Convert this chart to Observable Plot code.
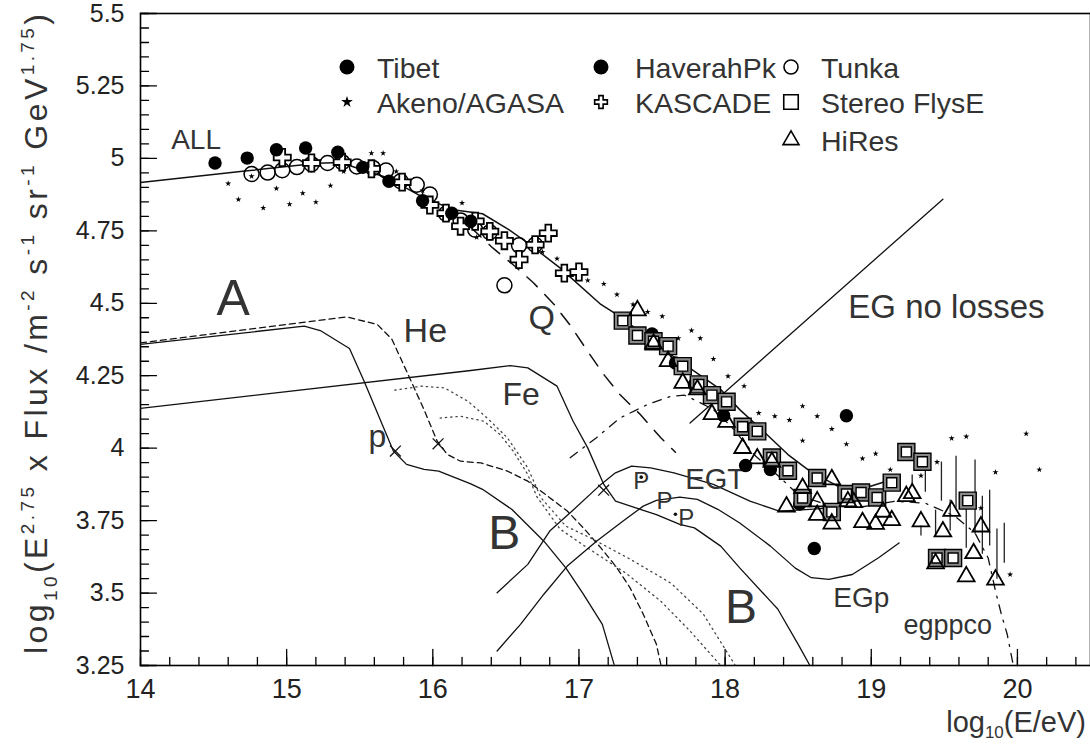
<!DOCTYPE html>
<html><head><meta charset="utf-8">
<script src="https://cdn.jsdelivr.net/npm/d3@7"></script>
<script src="https://cdn.jsdelivr.net/npm/@observablehq/plot@0.6"></script>
<style>body{margin:0;background:#fff} svg{display:block}</style>
</head><body><div id="chart"></div>
<script>
// ---------------- data (log10 E/eV , log10 E^2.75 flux) ----------------
const xTicks = [14, 15, 16, 17, 18, 19, 20];
const yTicks = [3.25, 3.5, 3.75, 4, 4.25, 4.5, 4.75, 5, 5.25, 5.5];

const tibet = [[14.51,4.984],[14.73,5.001],[14.93,5.03],[15.13,5.036],[15.35,5.021],[15.52,4.969],[15.70,4.921],[15.93,4.854],[16.13,4.811],[16.26,4.783]];
const haverah = [[17.50,4.394],[17.66,4.294],[17.79,4.220],[17.99,4.113],[18.14,3.940],[18.31,3.926],[18.51,3.807],[18.61,3.654],[18.83,4.112]];
const tunka = [[14.76,4.946],[14.87,4.951],[14.97,4.959],[15.07,4.970],[15.17,4.980],[15.28,4.984],[15.38,4.987],[15.48,4.972],[15.59,4.967],[15.68,4.958],[15.78,4.921],[15.89,4.909],[15.98,4.875],[16.09,4.809],[16.19,4.786],[16.29,4.754],[16.39,4.745],[16.59,4.700],[16.70,4.702],[16.49,4.562]];
const kascade = [[14.97,5.003],[15.17,4.984],[15.38,4.987],[15.58,4.964],[15.79,4.918],[15.98,4.839],[16.09,4.811],[16.19,4.766],[16.29,4.783],[16.39,4.748],[16.49,4.716],[16.59,4.651],[16.70,4.702],[16.79,4.742],[16.90,4.604],[17.00,4.608]];
const akeno = [[14.60,4.913],[14.67,4.858],[14.76,4.938],[14.84,4.829],[14.93,4.896],[15.02,4.842],[15.11,4.880],[15.20,4.849],[15.30,4.906],[15.39,4.955],[15.58,5.018],[15.66,5.018],[15.75,4.955],[15.93,4.889],[16.20,4.846],[16.30,4.728],[16.75,4.677],[16.85,4.654],[17.06,4.579],[17.17,4.567],[17.26,4.530],[17.37,4.496],[17.47,4.470],[17.57,4.455],[17.68,4.379],[17.77,4.406],[17.83,4.379],[17.92,4.308],[18.02,4.248],[18.13,4.214],[18.23,4.121],[18.34,4.110],[18.44,4.097],[18.53,4.145],[18.63,4.110],[18.73,4.066],[18.53,4.026],[18.83,4.014],[18.94,3.964],[19.03,3.981],[19.13,3.926],[19.34,3.905],[19.45,3.952],[19.55,4.034],[19.65,4.040],[19.85,3.917],[19.75,3.793],[20.06,4.050],[20.15,3.926],[19.95,3.564]];
const flysE = [[17.30,4.440],[17.40,4.389],[17.51,4.369],[17.61,4.352],[17.71,4.283],[17.82,4.220],[17.91,4.183],[18.01,4.160],[18.12,4.074],[18.22,4.058],[18.32,3.968],[18.43,3.922],[18.53,3.828],[18.63,3.897],[18.73,3.780],[18.83,3.842],[18.93,3.847],[19.04,3.830],[19.14,3.881],[19.24,3.987],[19.35,3.953],[19.66,3.819],[19.45,3.621],[19.56,3.621]];
const hires = [[17.40,4.475],[17.51,4.360],[17.61,4.300],[17.71,4.225],[17.81,4.202],[17.91,4.117],[18.01,4.090],[18.12,4.000],[18.22,3.964],[18.32,3.952],[18.42,3.798],[18.53,3.862],[18.63,3.816],[18.63,3.769],[18.73,3.892],[18.73,3.739],[18.84,3.816],[18.88,3.813],[18.94,3.744],[19.03,3.738],[19.08,3.780],[19.14,3.751],[19.24,3.834],[19.28,3.844],[19.34,3.747],[19.49,3.712],[19.55,3.783],[19.44,3.602],[19.70,3.637],[19.75,3.729],[19.65,3.557],[19.85,3.546]];
const hiresErr = [[19.28,3.869,3.907],[19.37,3.848,3.938],[19.48,3.817,3.952],[19.44,3.700,3.786],[19.34,3.697,3.731],[19.58,3.793,3.972],[19.54,3.714,3.821],[19.65,3.655,3.810],[19.71,3.703,3.959],[19.76,3.634,3.834],[19.81,3.662,3.855],[19.86,3.548,3.721],[19.91,3.603,3.741]];

// model curves
const allCurve = [[14.0,4.917],[14.73,4.957],[15.21,4.983],[15.37,4.986],[15.48,4.967],[15.69,4.933],[15.94,4.864],[16.14,4.823],[16.34,4.809],[16.52,4.754],[16.65,4.708],[16.87,4.622],[17.15,4.496],[17.26,4.461],[17.69,4.300],[17.97,4.202],[18.10,4.133],[18.26,4.059],[18.43,3.978],[18.58,3.921],[18.77,3.869],[18.93,3.858],[19.18,3.898]];
const pCurve = [[14.0,4.358],[15.12,4.421],[15.23,4.406],[15.43,4.344],[15.53,4.231],[15.73,3.990],[15.82,3.944],[15.94,3.927],[16.04,3.921],[16.26,3.877],[16.34,3.858],[16.54,3.789],[16.76,3.679],[16.91,3.587],[17.03,3.496],[17.16,3.392],[17.24,3.254]];
const heCurve = [[14.0,4.363],[15.41,4.453],[15.62,4.427],[15.72,4.376],[15.82,4.266],[15.94,4.133],[16.03,4.024],[16.10,3.978],[16.19,3.955],[16.33,3.949],[16.51,3.921],[16.65,3.886],[16.80,3.829],[16.92,3.783],[17.03,3.725],[17.15,3.656],[17.26,3.587],[17.35,3.518],[17.44,3.427],[17.53,3.323],[17.56,3.254]];
const feCurve = [[14.0,4.137],[16.26,4.268],[16.53,4.285],[16.65,4.277],[16.85,4.214],[16.96,4.093],[17.06,4.001],[17.17,3.875],[17.25,3.817],[17.42,3.789],[17.53,3.771],[17.69,3.737],[17.79,3.725],[17.97,3.662],[18.10,3.587],[18.31,3.472],[18.36,3.445],[18.50,3.323],[18.58,3.25]];
const dotCurveA = [[15.74,4.200],[15.92,4.214],[16.08,4.208],[16.24,4.162],[16.37,4.105],[16.51,4.036],[16.65,3.932],[16.74,3.829],[16.91,3.731],[17.08,3.690],[17.35,3.617],[17.63,3.534],[17.85,3.428],[18.07,3.25]];
const dotCurveB = [[16.05,4.104],[16.19,4.110],[16.35,4.093],[16.46,4.047],[16.55,3.990],[16.65,3.909],[16.71,3.834],[16.87,3.721],[17.04,3.662],[17.32,3.569],[17.56,3.472],[17.76,3.369],[17.97,3.25]];
const qCurve = [[16.26,4.762],[16.41,4.691],[16.55,4.633],[16.69,4.570],[16.83,4.496],[16.94,4.424],[17.06,4.334],[17.17,4.254],[17.28,4.185],[17.42,4.116],[17.56,4.036],[17.66,3.986]];
const egNoLoss = [[17.76,4.087],[19.49,4.859]];
const egtCurve = [[16.44,3.501],[16.65,3.599],[16.80,3.714],[16.94,3.777],[17.15,3.875],[17.25,3.915],[17.36,3.938],[17.49,3.932],[17.65,3.915],[17.92,3.875],[18.17,3.817],[18.37,3.783],[18.58,3.789],[18.72,3.794]];
const egpCurve = [[16.44,3.300],[16.60,3.392],[16.76,3.496],[16.92,3.593],[17.12,3.679],[17.30,3.748],[17.44,3.800],[17.53,3.820],[17.69,3.831],[17.81,3.823],[17.95,3.789],[18.10,3.742],[18.31,3.662],[18.48,3.586],[18.59,3.553],[18.71,3.547],[18.87,3.564],[19.05,3.622],[19.19,3.673]];
const egppcoCurve = [[16.94,3.967],[17.12,4.036],[17.28,4.104],[17.47,4.151],[17.63,4.179],[17.72,4.183],[17.81,4.162],[17.92,4.133],[18.04,4.076],[18.21,3.972],[18.38,3.897],[18.51,3.834],[18.72,3.803],[18.93,3.797],[19.16,3.817],[19.37,3.810],[19.57,3.766],[19.71,3.707],[19.80,3.621],[19.85,3.507],[19.89,3.427],[19.93,3.358],[19.97,3.255]];
const crossMarks = [[15.744,3.990],[16.036,4.015],[17.169,3.855]];
const pDots = [[17.426,3.900],[17.66,3.772]];

const labels = [
  {text:"ALL", x:14.21, y:5.031}, {text:"A", x:14.52, y:4.459}, {text:"He", x:15.80, y:4.366},
  {text:"Fe", x:16.476, y:4.150}, {text:"p", x:15.56, y:4.003}, {text:"Q", x:16.654, y:4.410},
  {text:"EG no losses", x:18.843, y:4.448}, {text:"EGT", x:17.728, y:3.859},
  {text:"P", x:17.372, y:3.859}, {text:"P", x:17.53, y:3.790}, {text:"P", x:17.68, y:3.731},
  {text:"B", x:16.38, y:3.652}, {text:"B", x:18.0, y:3.397}, {text:"EGp", x:18.74, y:3.452},
  {text:"egppco", x:19.22, y:3.359}
];
const legendEntries = [
  {label:"Tibet", kind:"dotFill", col:0, row:0}, {label:"HaverahPk", kind:"dotFill", col:1, row:0},
  {label:"Tunka", kind:"dotOpen", col:2, row:0}, {label:"Akeno/AGASA", kind:"star", col:0, row:1},
  {label:"KASCADE", kind:"cross", col:1, row:1}, {label:"Stereo FlysE", kind:"square", col:2, row:1},
  {label:"HiRes", kind:"triangle", col:2, row:2}
];

// ---------------- chart ----------------
const FONT = "'Liberation Sans', Arial, Helvetica, sans-serif";
const xy = {x: d => d[0], y: d => d[1]};
const tickShape = {draw(ctx, l) { ctx.moveTo(0, 0); ctx.lineTo(0, -l); }};
const xMinor = d3.range(0, 33).map(i => 14 + i * 0.2);
const yMinor = d3.range(0, 46).map(i => 3.25 + i * 0.05);
const sizeOf = t => ({"ALL":28,"A":50,"He":34,"Fe":32,"p":32,"Q":34,"EG no losses":33,"EGT":29,"P":24,"B":48,"EGp":28,"egppco":27})[t];
const lineOpt = (o) => Object.assign({...xy, stroke: "#111", strokeWidth: 1.3, clip: true}, o);

const plot = Plot.plot({
  width: 1090, height: 744,
  marginLeft: 140, marginRight: 0, marginTop: 13, marginBottom: 79,
  x: {domain: [14, 20.5]},
  y: {domain: [3.25, 5.5]},
  style: {fontFamily: FONT, fontSize: "27px", color: "#222", background: "white", overflow: "visible"},
  marks: [
    Plot.frame({stroke: "#000", strokeWidth: 1.6}),
    Plot.vector(xMinor, {x: d => d, y: () => 3.25, length: 8, rotate: 0, anchor: "start", shape: tickShape, stroke: "#000", strokeWidth: 1.3}),
    Plot.vector(xTicks, {x: d => d, y: () => 3.25, length: 16, rotate: 0, anchor: "start", shape: tickShape, stroke: "#000", strokeWidth: 1.3}),
    Plot.vector(yMinor, {x: () => 14, y: d => d, length: 8, rotate: 90, anchor: "start", shape: tickShape, stroke: "#000", strokeWidth: 1.3}),
    Plot.vector(yTicks, {x: () => 14, y: d => d, length: 16, rotate: 90, anchor: "start", shape: tickShape, stroke: "#000", strokeWidth: 1.3}),
    Plot.axisX({ticks: xTicks, tickSize: 0, tickPadding: 13, tickFormat: d => String(d), label: null}),
    Plot.axisY({ticks: yTicks, tickSize: 0, tickPadding: 16, tickFormat: d => String(d), label: null, fontSize: 25}),

    Plot.line(pCurve, lineOpt({})),
    Plot.line(heCurve, lineOpt({strokeDasharray: "6,4"})),
    Plot.line(feCurve, lineOpt({})),
    Plot.line(dotCurveA, lineOpt({strokeDasharray: "1.3,4", stroke: "#444"})),
    Plot.line(dotCurveB, lineOpt({strokeDasharray: "1.3,4", stroke: "#444"})),
    Plot.line(qCurve, lineOpt({strokeDasharray: "14,11", strokeWidth: 1.5})),
    Plot.line(egNoLoss, lineOpt({})),
    Plot.line(egtCurve, lineOpt({})),
    Plot.line(egpCurve, lineOpt({})),
    Plot.line(egppcoCurve, lineOpt({strokeDasharray: "9,7,2,7"})),
    Plot.line(allCurve, lineOpt({strokeWidth: 1.5})),
    Plot.ruleX(hiresErr, {x: d => d[0], y1: d => d[1], y2: d => d[2], stroke: "#222", strokeWidth: 1.3}),
    Plot.dot(crossMarks, {...xy, symbol: "times", r: 5, stroke: "#111", strokeWidth: 1.3}),
    Plot.dot(pDots, {...xy, r: 1.8, fill: "#111"}),

    Plot.text(labels, {x: "x", y: "y", text: "text", textAnchor: "start", lineAnchor: "bottom", fontSize: d => sizeOf(d.text), fill: "#333"}),

    Plot.dot(akeno, {...xy, symbol: "star", r: 1.9, fill: "#000"}),
    Plot.dot(tunka, {...xy, r: 7.5, stroke: "#000", strokeWidth: 1.5, fill: "none"}),
    Plot.dot(kascade, {...xy, symbol: "cross", r: 7.2, fill: "white", stroke: "#000", strokeWidth: 1.8}),
    Plot.dot(tibet, {...xy, r: 6.7, fill: "#000"}),
    Plot.dot(haverah, {...xy, r: 6.7, fill: "#000"}),
    Plot.dot(flysE, {...xy, symbol: "square", r: 9.6, fill: "#888", stroke: "#000", strokeWidth: 1.4}),
    Plot.dot(flysE, {...xy, symbol: "square", r: 5.6, fill: "white", stroke: "#000", strokeWidth: 1.4}),
    Plot.dot(hires, {...xy, symbol: "triangle", r: 6.2, fill: "none", stroke: "#000", strokeWidth: 1.8})
  ]
});
document.getElementById("chart").appendChild(plot);

// ---------------- axis titles & legend ----------------
const svg = d3.select(plot);
function richText(sel, parts, base, small, subShift) {
  let cur = 0;
  for (const [s, k] of parts) {
    const target = k === 1 ? subShift * base : k === 2 ? -0.42 * base : 0;
    sel.append("tspan").attr("dy", target - cur).attr("font-size", k ? small : base).text(s);
    cur = target;
  }
}
const yt = svg.append("text")
  .attr("transform", "translate(47,334) rotate(-90)")
  .attr("text-anchor", "middle").attr("font-family", FONT).attr("fill", "#333");
richText(yt, [["log",0],["10",1],["(E",0],["2.75",2],[" x Flux /m",0],["-2",2],[" s",0],["-1",2],[" sr",0],["-1",2],[" GeV",0],["1.75",2],[")",0]], 32, 19, 0.3);
yt.attr("textLength", 640).attr("lengthAdjust", "spacing");

const xt = svg.append("text")
  .attr("transform", "translate(1086,732)")
  .attr("text-anchor", "end").attr("font-family", FONT).attr("fill", "#333");
richText(xt, [["log",0],["10",1],["(E/eV)",0]], 29, 17, 0.2);

const colX = [347, 601, 791], rowY = [67, 102, 140];
const lg = svg.append("g").attr("font-family", FONT).attr("font-size", 28.5).attr("fill", "#333").attr("text-anchor", "start");
for (const e of legendEntries) {
  const cx = colX[e.col], cy = rowY[e.row];
  const g = lg.append("g").attr("transform", `translate(${cx},${cy})`);
  if (e.kind === "dotFill") g.append("circle").attr("r", 7.5).attr("fill", "#000");
  if (e.kind === "dotOpen") g.append("circle").attr("r", 7).attr("fill", "none").attr("stroke", "#000").attr("stroke-width", 1.6);
  if (e.kind === "star") g.append("path").attr("d", d3.symbol(d3.symbolStar, 42)()).attr("fill", "#000");
  if (e.kind === "cross") g.append("path").attr("d", d3.symbol(d3.symbolCross, 90)()).attr("fill", "white").attr("stroke", "#000").attr("stroke-width", 1.6);
  if (e.kind === "square") g.append("path").attr("d", d3.symbol(d3.symbolSquare, 210)()).attr("fill", "white").attr("stroke", "#000").attr("stroke-width", 1.6);
  if (e.kind === "triangle") g.append("path").attr("d", d3.symbol(d3.symbolTriangle, 110)()).attr("fill", "none").attr("stroke", "#000").attr("stroke-width", 1.6);
  lg.append("text").attr("x", cx + (e.col === 1 ? 34 : 30)).attr("y", cy + 10.5).text(e.label);
}
</script>
</body></html>
